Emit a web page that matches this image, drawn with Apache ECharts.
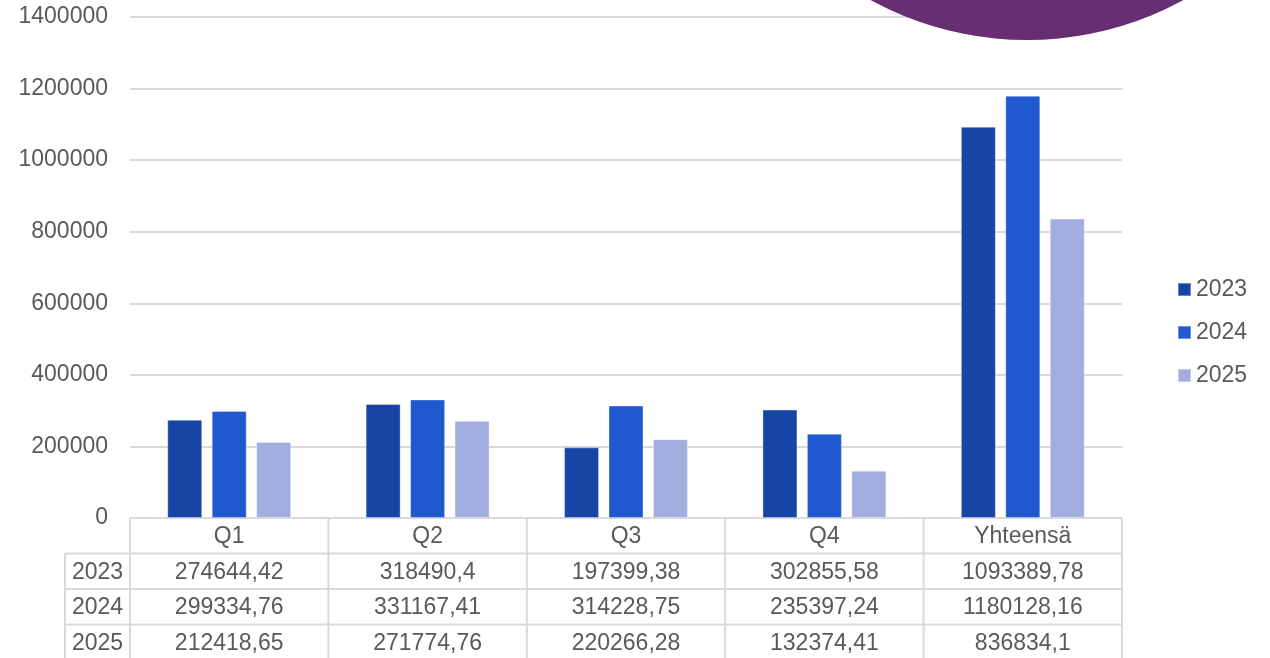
<!DOCTYPE html>
<html lang="fi">
<head>
    <meta charset="UTF-8">
    <title>Neljännekset</title>
    <script src="https://cdn.jsdelivr.net/npm/echarts@6/dist/echarts.min.js"></script>
    <style>
        html, body { margin: 0; padding: 0; background: #fff; }
        #chart { width: 1270px; height: 658px; }
    </style>
</head>
<body>
    <div id="chart"></div>
    <script>
        // data
        var categories = ['Q1', 'Q2', 'Q3', 'Q4', 'Yhteensä'];
        var years = ['2023', '2024', '2025'];
        var values2023 = [274644.42, 318490.4, 197399.38, 302855.58, 1093389.78];
        var values2024 = [299334.76, 331167.41, 314228.75, 235397.24, 1180128.16];
        var values2025 = [212418.65, 271774.76, 220266.28, 132374.41, 836834.1];
        var yTicks = [0, 200000, 400000, 600000, 800000, 1000000, 1200000, 1400000];

        var colors = ['#1745A5', '#1F58CF', '#A3AEE0'];
        var textColor = '#595959';
        var lineColor = '#D9D9D9';
        var fontSize = 23;
        var fontFamily = '"Liberation Sans", Arial, sans-serif';

        // grid box
        var gLeft = 130, gRight = 148, gTop = 17, gBottom = 140;
        var W = 1270, H = 658;
        var plotW = W - gLeft - gRight;
        var cellW = plotW / categories.length;
        var tableTop = H - gBottom;
        var rowH = 35.5;
        var labelColLeft = 65;

        var seriesValues = [values2023, values2024, values2025];

        var graphics = [];
        function hline(x1, x2, y) {
            graphics.push({ type: 'line', shape: { x1: x1, y1: y, x2: x2, y2: y },
                style: { stroke: lineColor, lineWidth: 2 }, silent: true });
        }
        function vline(x, y1, y2) {
            graphics.push({ type: 'line', shape: { x1: x, y1: y1, x2: x, y2: y2 },
                style: { stroke: lineColor, lineWidth: 2 }, silent: true });
        }
        function cellText(txt, cx, cy) {
            graphics.push({ type: 'text', x: cx, y: cy,
                style: { text: txt, fill: textColor, font: fontSize + 'px ' + fontFamily,
                    align: 'center', verticalAlign: 'middle' }, silent: true });
        }

        // table: header row
        hline(gLeft, W - gRight, tableTop);
        for (var i = 0; i <= categories.length; i++) {
            vline(gLeft + i * cellW, tableTop, H + 5);
        }
        for (var i = 0; i < categories.length; i++) {
            cellText(categories[i], gLeft + (i + 0.5) * cellW, tableTop + rowH / 2 + 1);
        }
        // data rows
        vline(labelColLeft, tableTop + rowH, H + 5);
        for (var r = 0; r < years.length; r++) {
            var y0 = tableTop + rowH * (r + 1);
            hline(labelColLeft, W - gRight, y0);
            cellText(years[r], (labelColLeft + gLeft) / 2, y0 + rowH / 2 + 1);
            for (var c = 0; c < categories.length; c++) {
                var s = String(seriesValues[r][c]).replace('.', ',');
                cellText(s, gLeft + (c + 0.5) * cellW, y0 + rowH / 2 + 1);
            }
        }

        // purple circle decoration
        graphics.push({ type: 'circle', shape: { cx: 1027, cy: -286, r: 326 },
            style: { fill: '#672E72' }, z: 100, silent: true });

        var chart = echarts.init(document.getElementById('chart'));
        chart.setOption({
            animation: false,
            backgroundColor: '#fff',
            textStyle: { fontFamily: fontFamily },
            grid: { left: gLeft, right: gRight, top: gTop, bottom: gBottom, containLabel: false },
            legend: {
                orient: 'vertical',
                left: 1177,
                top: 278,
                padding: 0,
                itemWidth: 13,
                itemHeight: 13,
                itemGap: 20,
                icon: 'rect',
                textStyle: { color: textColor, fontSize: fontSize },
                data: years
            },
            xAxis: {
                type: 'category',
                data: categories,
                axisLine: { show: false },
                axisTick: { show: false },
                axisLabel: { show: false }
            },
            yAxis: {
                type: 'value',
                min: yTicks[0],
                max: yTicks[yTicks.length - 1],
                interval: yTicks[1] - yTicks[0],
                axisLine: { show: false },
                axisTick: { show: false },
                axisLabel: { color: textColor, fontSize: fontSize, margin: 22, padding: [4, 0, 0, 0],
                    formatter: function (v) { return String(v); } },
                splitLine: { lineStyle: { color: lineColor, width: 2 } }
            },
            series: years.map(function (y, i) {
                return {
                    name: y,
                    type: 'bar',
                    data: seriesValues[i],
                    barWidth: 35,
                    barGap: '27%',
                    itemStyle: { color: colors[i], borderColor: 'rgba(255,255,255,0.35)', borderWidth: 1 }
                };
            }),
            graphic: graphics
        });
    </script>
</body>
</html>
